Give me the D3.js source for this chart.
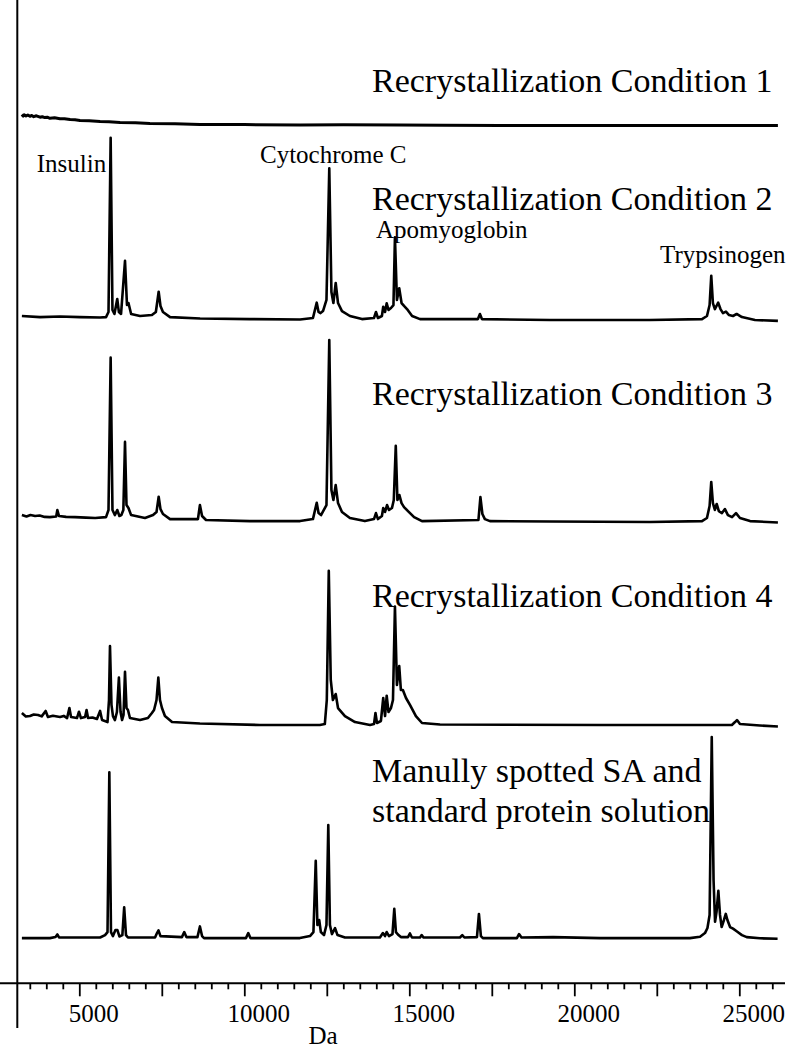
<!DOCTYPE html>
<html>
<head>
<meta charset="utf-8">
<script src="https://cdn.jsdelivr.net/npm/d3@7"></script>
<style>
  html, body { margin: 0; padding: 0; background: #fff; }
  svg { display: block; }
  text { font-family: "Liberation Serif", "Times New Roman", serif; fill: #000; }
</style>
</head>
<body>
<svg id="chart" width="789" height="1050"></svg>
<script>
// ---------- DATA (mass in Da, relative intensity in % of the panel's tallest peak) ----------
const majorTicks = [5000, 7500, 10000, 12500, 15000, 17500, 20000, 22500, 25000];
const tickLabels = [5000, 10000, 15000, 20000, 25000];
const minorTicks = [3500, 4000, 4500, 5500, 6000, 6500, 7000, 8000, 8500, 9000, 9500,
  10500, 11000, 11500, 12000, 13000, 13500, 14000, 14500, 15500, 16000, 16500, 17000,
  18000, 18500, 19000, 19500, 20500, 21000, 21500, 22000, 23000, 23500, 24000, 24500,
  25500, 26000];

const conditionTitles = [
  ["Recrystallization Condition 1"],
  ["Recrystallization Condition 2"],
  ["Recrystallization Condition 3"],
  ["Recrystallization Condition 4"],
  ["Manully spotted SA and", "standard protein solution"]
];
const proteinLabels = ["Insulin", "Cytochrome C", "Apomyoglobin", "Trypsinogen"];

const spectrum1 = [
  [3260, 6.1], [3300, 5.2], [3330, 5.9], [3385, 5.3], [3440, 5.8], [3505, 5.1], [3560, 5.6],
  [3620, 4.9], [3700, 5.4], [3810, 4.6], [3880, 4.9], [3950, 4.4], [4030, 4.6], [4110, 4.0],
  [4250, 4.3], [4415, 3.7], [4550, 3.8], [4720, 3.3], [4870, 3.2], [5020, 2.8], [5300, 2.6],
  [5630, 2.2], [5900, 2.1], [6235, 1.7], [6700, 1.5], [7140, 1.1], [7900, 1.0], [8655, 0.6],
  [10000, 0.5], [11690, 0.3], [13000, 0.4], [14715, 0.3], [16000, 0.1], [17745, 0],
  [20000, 0], [23000, 0], [26170, 0]
];

const spectrum2 = [
  [3260, 2.2], [3810, 1.6], [4415, 1.9], [5020, 1.6], [5630, 1.4], [5810, 1.6], [5885, 4.4],
  [5950, 100], [6005, 5.5], [6065, 3.3], [6150, 11.5], [6200, 4.4], [6265, 3.3], [6385, 32.5],
  [6445, 8.2], [6490, 9.3], [6570, 3.3], [6840, 2.2], [7200, 2.7], [7320, 4.4], [7405, 15.5],
  [7460, 7.7], [7535, 4.4], [7750, 1.6], [8660, 0.8], [10170, 0.5], [11690, 0.3], [12080, 1.1],
  [12195, 9.5], [12250, 4.4], [12310, 3.8], [12385, 4.9], [12490, 11], [12575, 83.2],
  [12640, 15.4], [12700, 9.3], [12770, 20.3], [12840, 9.3], [12960, 4.9], [13200, 2.2],
  [13565, 0.5], [13930, 1.1], [13990, 4.4], [14050, 1.1], [14170, 2.2], [14210, 7.3],
  [14265, 4.4], [14315, 9.2], [14370, 5.5], [14445, 6.6], [14520, 8.2], [14565, 45.4],
  [14625, 11], [14695, 17.4], [14765, 9.3], [14840, 7.7], [14930, 6], [15085, 2.2],
  [15325, 0.5], [17080, 0.5], [17140, 3.3], [17200, 0.5], [19260, 0], [22290, 0],
  [23870, 0.5], [24020, 2.2], [24100, 8.2], [24150, 24.3], [24200, 9.3], [24260, 6],
  [24310, 7.7], [24360, 9.5], [24430, 6], [24505, 3.8], [24595, 4.6], [24690, 2.7],
  [24810, 2.2], [24920, 3.3], [25080, 1.6], [25475, 0], [26170, -0.5]
];

const spectrum3 = [
  [3260, 3.8], [3400, 3.0], [3520, 3.8], [3660, 3.3], [3800, 3.6], [3950, 2.8], [4110, 2.7],
  [4300, 3.0], [4335, 6.6], [4385, 3.3], [4600, 2.8], [4870, 2.7], [5200, 2.4], [5480, 2.2],
  [5810, 2.7], [5885, 6.6], [5950, 90.3], [6005, 6.6], [6080, 3.8], [6150, 6.6], [6215, 3.3],
  [6275, 3.8], [6335, 6.6], [6385, 44], [6430, 9.3], [6490, 7.7], [6570, 3.8], [6990, 2.2],
  [7235, 3.8], [7340, 5.5], [7405, 13.9], [7460, 7.1], [7535, 4.4], [7750, 1.6], [8200, 1.6],
  [8595, 1.6], [8655, 9.3], [8720, 3.3], [8840, 1.1], [10170, 0.5], [11690, 0.5],
  [12080, 1.6], [12195, 10.6], [12250, 4.9], [12325, 3.8], [12490, 9.3], [12575, 100],
  [12640, 17.6], [12700, 12.1], [12770, 20.3], [12840, 10.4], [12960, 5.5], [13200, 2.2],
  [13655, 0.5], [13930, 1.6], [13990, 4.9], [14050, 1.6], [14170, 3.3], [14210, 7.7],
  [14265, 5.5], [14325, 9.3], [14385, 6.6], [14475, 7.7], [14530, 12.1], [14590, 41.9],
  [14640, 12.1], [14700, 14.8], [14765, 10.4], [14840, 8.2], [14960, 6], [15145, 2.7],
  [15385, 0.5], [17095, 1.1], [17155, 13.7], [17215, 4.4], [17290, 1.6], [17445, 0.5],
  [19260, 0.3], [22290, 0], [23870, 0.5], [24020, 2.2], [24100, 8.8], [24150, 22],
  [24200, 10.4], [24260, 6.6], [24315, 9.9], [24380, 6], [24475, 4.9], [24565, 7.1],
  [24655, 3.8], [24780, 2.7], [24900, 4.9], [25020, 2.2], [25325, 0.5], [26170, -0.3]
];

const spectrum4 = [
  [3260, 7.8], [3380, 5.5], [3505, 5.8], [3620, 6.8], [3750, 6.5], [3860, 5.6], [3980, 9.1],
  [4050, 5.2], [4200, 6.0], [4415, 5.2], [4530, 5.9], [4630, 4.5], [4700, 11], [4750, 5.2],
  [4930, 4.5], [4990, 8.6], [5050, 4.5], [5175, 5.2], [5220, 9.7], [5265, 4.5], [5400, 4.9],
  [5535, 3.9], [5630, 9.1], [5690, 3.2], [5855, 1.9], [5900, 16.2], [5930, 51.2], [5975, 13],
  [6020, 5.8], [6080, 3.2], [6140, 8.4], [6200, 30.7], [6250, 8.4], [6295, 3.2], [6340, 6.5],
  [6385, 34.5], [6430, 11], [6475, 9.7], [6535, 4.5], [6840, 3.2], [7080, 4.5], [7200, 7.8],
  [7265, 9.7], [7340, 16.2], [7395, 30.7], [7445, 16.2], [7505, 11], [7595, 5.8], [7810, 1.9],
  [8655, 1], [10470, 0], [12290, 0], [12440, 0.6], [12500, 16.2], [12560, 100], [12620, 29.2],
  [12685, 16.2], [12770, 20.1], [12840, 11], [13050, 5.8], [13355, 1.9], [13810, 0],
  [13930, 0.6], [13975, 7.8], [14020, 1.3], [14140, 2.6], [14210, 17.5], [14265, 5.8],
  [14315, 19], [14370, 8.4], [14445, 11], [14505, 16.2], [14565, 76.7], [14625, 25.9],
  [14695, 38.2], [14745, 22.7], [14805, 22.7], [14900, 17.5], [15020, 13], [15200, 5.8],
  [15385, 1.3], [15930, 0.3], [20780, 0], [23810, 0], [24775, 0], [24870, 1.9], [24930, 3.2],
  [25020, 0.6], [25625, -0.3], [26170, -1]
];

const spectrum5 = [
  [3260, 0.1], [4110, 0.1], [4280, 0.6], [4335, 1.9], [4385, 0.4], [5630, 0.4], [5780, 1.6],
  [5855, 3.1], [5910, 82.5], [5960, 3.1], [6020, 1.1], [6095, 4.1], [6155, 4.1], [6215, 0.9],
  [6305, 1.6], [6360, 15.4], [6415, 1.6], [6475, 0.4], [7295, 0.4], [7355, 2.6], [7400, 3.9],
  [7460, 1.1], [8110, 0.6], [8180, 3.1], [8245, 0.6], [8580, 0.6], [8655, 5.9], [8720, 1.1],
  [8780, 0.1], [10050, 0.1], [10120, 2.6], [10185, 0.1], [11685, 0.1], [11990, 1.1],
  [12095, 3.1], [12165, 38.5], [12215, 6.6], [12270, 9.1], [12320, 3.1], [12415, 1.6],
  [12490, 6.6], [12545, 56.3], [12595, 6.6], [12655, 2.1], [12750, 5], [12825, 1.6],
  [13050, 0.4], [14110, 0.4], [14200, 2.6], [14265, 1.1], [14315, 3.1], [14385, 1.1],
  [14490, 2.1], [14545, 14.6], [14595, 3.1], [14655, 1.9], [14745, 0.6], [14960, 0.6],
  [15020, 2.4], [15080, 0.4], [15325, 0.4], [15375, 1.6], [15430, 0.4], [16535, 0.4],
  [16605, 1.6], [16670, 0.4], [17050, 0.6], [17110, 12.1], [17170, 1.1], [17230, 0.1],
  [18260, 0.1], [18325, 2.1], [18400, 0.4], [19355, 0.6], [20780, 0.1], [23505, 0.1],
  [23810, 0.8], [23960, 2.6], [24035, 5.1], [24100, 11.6], [24165, 100], [24220, 29],
  [24265, 8.2], [24310, 13.1], [24365, 23.6], [24415, 11.6], [24465, 5.6], [24535, 9.1],
  [24590, 12.1], [24640, 9.1], [24720, 5.6], [24810, 4.8], [24930, 3.4], [25080, 1.6],
  [25225, 0.6], [25625, 0], [26160, -0.2]
];

// ---------- LAYOUT ----------
const svg = d3.select("#chart");
const x = d3.scaleLinear().domain([3100, 26400]).range([16.6, 785.5]);

const panels = [
  { data: spectrum1, base: 125.5, top: -54.5 },
  { data: spectrum2, base: 320, top: 137.7 },
  { data: spectrum3, base: 522, top: 340 },
  { data: spectrum4, base: 725, top: 570.7 },
  { data: spectrum5, base: 938.3, top: 737 }
];
const titlePos = [[372, 92], [372, 210], [372, 405], [372, 607], [372, 782]];
const labelPos = [[36.7, 171.7], [260, 163.3], [376, 238], [660, 263]];

// titles
conditionTitles.forEach((lines, i) => {
  const t = svg.append("text")
    .attr("x", titlePos[i][0]).attr("y", titlePos[i][1])
    .style("font-size", "34px");
  lines.forEach((ln, j) => {
    t.append("tspan").attr("x", titlePos[i][0]).attr("dy", j === 0 ? 0 : 40).text(ln);
  });
});
proteinLabels.forEach((lb, i) => {
  svg.append("text").attr("x", labelPos[i][0]).attr("y", labelPos[i][1])
    .style("font-size", "25px").text(lb);
});

// spectra
panels.forEach((p, i) => {
  const y = d3.scaleLinear().domain([0, 100]).range([p.base, p.top]);
  const line = d3.line().x(d => x(d[0])).y(d => y(d[1]));
  svg.append("path").datum(p.data)
    .attr("d", line)
    .attr("fill", "none")
    .attr("stroke", "#000")
    .attr("stroke-width", i === 0 ? 3 : 2.6)
    .attr("stroke-linejoin", "round");
});

// axes
const axisY = 983.3;
svg.append("line").attr("x1", 17.3).attr("x2", 17.3).attr("y1", 0).attr("y2", 1028)
  .attr("stroke", "#000").attr("stroke-width", 2);
svg.append("line").attr("x1", 0).attr("x2", 785).attr("y1", axisY).attr("y2", axisY)
  .attr("stroke", "#000").attr("stroke-width", 2);

const gMinor = svg.append("g").attr("transform", `translate(0,${axisY})`)
  .call(d3.axisBottom(x).tickValues(minorTicks).tickSize(6).tickFormat(""));
const gMajor = svg.append("g").attr("transform", `translate(0,${axisY})`)
  .call(d3.axisBottom(x).tickValues(majorTicks).tickSize(13)
    .tickFormat(d => tickLabels.includes(d) ? d : ""));
[gMinor, gMajor].forEach(g => {
  g.select(".domain").remove();
  g.selectAll(".tick line").attr("stroke", "#000").attr("stroke-width", 1.8);
});
gMajor.selectAll(".tick text")
  .attr("y", 0).attr("dy", 0)
  .attr("transform", "translate(14,38.5)")
  .style("font-size", "25px")
  .style("font-family", "'Liberation Serif', serif")
  .attr("fill", "#000");

svg.append("text").attr("x", 323).attr("y", 1044).attr("text-anchor", "middle")
  .style("font-size", "25px").text("Da");
</script>
</body>
</html>
